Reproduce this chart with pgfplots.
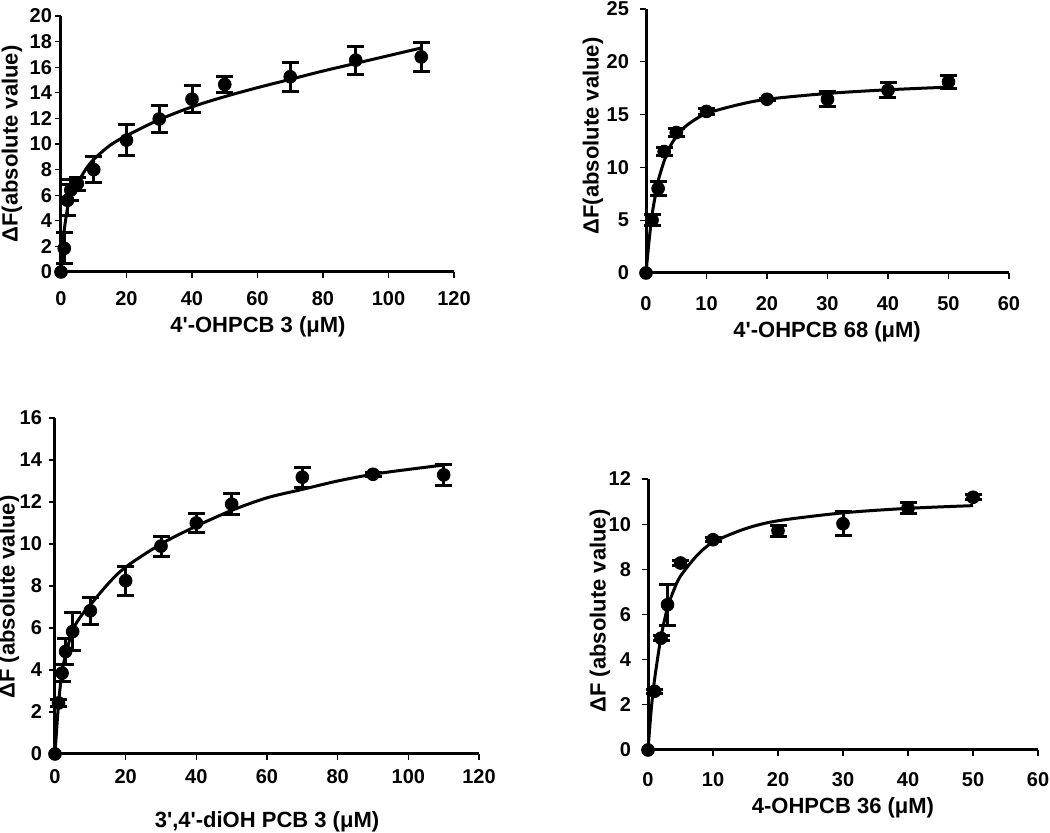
\documentclass[border=0pt]{standalone}
\usepackage{fontspec}
\setmainfont{Liberation Sans}[Ligatures=TeXOff]
\usepackage{pgfplots}
\usepackage{pgfplotstable}
\pgfplotsset{compat=1.18}
\pgfplotsset{
  refstyle/.style={
    scale only axis,
    axis x line*=bottom, axis y line*=left,
    axis line style={line width=1.5pt},
    tick align=outside,
    major tick length=3pt,
    tick style={line width=0.6pt, black},
    xmin=0, ymin=0,
    clip=false,
    /pgf/number format/assume math mode=true,
    tick label style={font=\fontsize{10}{11}\selectfont\bfseries},
    label style={font=\fontsize{11}{13}\selectfont\bfseries},
    xlabel style={anchor=center},
    ylabel style={anchor=center},
  },
  curve/.style={black, line width=1.5pt, smooth, no marks},
  zero/.style={only marks, mark=*, mark size=3.2pt, black},
  pts/.style={only marks, mark=*, mark size=3.2pt, black,
     error bars/.cd, y dir=both, y explicit,
     error bar style={line width=1.5pt, black},
     error mark options={rotate=90, mark size=4.25pt, line width=1.5pt, black}},
}
% panel A: 4'-OHPCB 3
\pgfplotstableread{
x y e
1 1.85 1.2
2 5.6 1.2
3 6.4 0.8
5 6.9 0.5
10 8.0 1.0
20 10.3 1.2
30 11.95 1.05
40 13.5 1.05
50 14.65 0.6
70 15.25 1.15
90 16.55 1.1
110 16.8 1.1
}\ptsA
\pgfplotstableread{
x y
0 0
0.5 1.9
1 3.3
2 5.0
3 5.9
5 6.9
7.5 8.0
10 8.8
15 9.9
20 10.65
30 11.9
40 12.9
50 13.7
60 14.4
70 15.05
80 15.7
90 16.3
100 16.9
110 17.5
}\fitA
% panel B: 4'-OHPCB 68
\pgfplotstableread{
x y e
1 5.0 0.5
2 8.0 0.7
3 11.5 0.4
5 13.3 0.4
10 15.3 0.3
20 16.45 0.1
30 16.45 0.7
40 17.3 0.7
50 18.1 0.6
}\ptsB
\pgfplotstableread{
x y
0 0
0.5 3.0
1 5.5
1.5 7.2
2 8.7
3 10.6
4 12.0
5 12.9
6 13.6
7.5 14.3
10 15.1
15 15.9
20 16.45
30 17.0
40 17.35
50 17.6
}\fitB
% panel C: 3',4'-diOH PCB 3
\pgfplotstableread{
x y e
1 2.43 0.15
2 3.85 0.4
3 4.88 0.6
5 5.83 0.9
10 6.82 0.65
20 8.25 0.7
30 9.9 0.48
40 11.0 0.47
50 11.9 0.5
70 13.18 0.48
90 13.32 0.1
110 13.29 0.5
}\ptsC
\pgfplotstableread{
x y
0 0
1 2.4
2 3.9
3 4.7
5 5.9
7.5 6.6
10 7.1
15 8.1
20 8.9
30 10.0
40 10.85
50 11.6
60 12.2
70 12.6
80 13.0
90 13.32
100 13.55
110 13.76
}\fitC
% panel D: 4-OHPCB 36
\pgfplotstableread{
x y e
1 2.6 0.1
2 4.95 0.1
3 6.43 0.9
5 8.28 0.1
10 9.31 0.1
20 9.71 0.25
30 10.02 0.52
40 10.71 0.26
50 11.19 0.12
}\ptsD
\pgfplotstableread{
x y
0 0
0.5 1.8
1 3.1
2 5.0
3 6.3
4 7.1
5 7.7
7.5 8.6
10 9.2
15 9.8
20 10.15
30 10.5
40 10.7
50 10.82
}\fitD
\begin{document}
\begin{tikzpicture}
% A
\begin{axis}[refstyle, at={(30.5pt,280.5pt)}, anchor=south west,
  width=196.5pt, height=128pt, xmax=120, ymax=20,
  xtick={0,20,...,120}, ytick={0,2,...,20},
  xticklabel style={yshift=-3pt}, yticklabel style={xshift=2pt},
  xlabel={4'-OHPCB 3 (μM)}, ylabel={ΔF(absolute value)},
  xlabel style={at={(axis description cs:0.501,-0.215)}},
  ylabel style={at={(axis description cs:-0.125,0.5)}}]
\addplot[curve] table[x=x,y=y] {\fitA};
\addplot[zero] coordinates {(0,0)};
\addplot[pts] table[x=x,y=y,y error=e] {\ptsA};
\end{axis}
% B
\begin{axis}[refstyle, at={(323pt,280pt)}, anchor=south west,
  width=181.5pt, height=132pt, xmax=60, ymax=25,
  xtick={0,10,...,60}, ytick={0,5,...,25},
  xticklabel style={yshift=-5pt}, yticklabel style={xshift=-2pt},
  xlabel={4'-OHPCB 68 (μM)}, ylabel={ΔF(absolute value)},
  xlabel style={at={(axis description cs:0.499,-0.2235)}},
  ylabel style={at={(axis description cs:-0.146,0.519)}}]
\addplot[curve] table[x=x,y=y] {\fitB};
\addplot[zero] coordinates {(0,0)};
\addplot[pts] table[x=x,y=y,y error=e] {\ptsB};
\end{axis}
% C
\begin{axis}[refstyle, at={(27.5pt,39.5pt)}, anchor=south west,
  width=212pt, height=168pt, xmax=120, ymax=16,
  xtick={0,20,...,120}, ytick={0,2,...,16},
  xticklabel style={yshift=-1pt},
  xlabel={3',4'-diOH PCB 3 (μM)}, ylabel={ΔF (absolute value)},
  xlabel style={at={(axis description cs:0.5,-0.2024)}},
  ylabel style={at={(axis description cs:-0.1085,0.467)}}]
\addplot[curve] table[x=x,y=y] {\fitC};
\addplot[zero] coordinates {(0,0)};
\addplot[pts] table[x=x,y=y,y error=e] {\ptsC};
\end{axis}
% D
\begin{axis}[refstyle, at={(324pt,41.5pt)}, anchor=south west,
  width=195pt, height=135.5pt, xmax=60, ymax=12,
  xtick={0,10,...,60}, ytick={0,2,...,12},
  xticklabel style={yshift=-4.5pt}, yticklabel style={xshift=-2pt},
  xlabel={4-OHPCB 36 (μM)}, ylabel={ΔF (absolute value)},
  xlabel style={at={(axis description cs:0.5,-0.214)}},
  ylabel style={at={(axis description cs:-0.123,0.513)}}]
\addplot[curve] table[x=x,y=y] {\fitD};
\addplot[zero] coordinates {(0,0)};
\addplot[pts] table[x=x,y=y,y error=e] {\ptsD};
\end{axis}
\pgfresetboundingbox
\path (0,0) rectangle (525pt,416.5pt);
\end{tikzpicture}
\end{document}
